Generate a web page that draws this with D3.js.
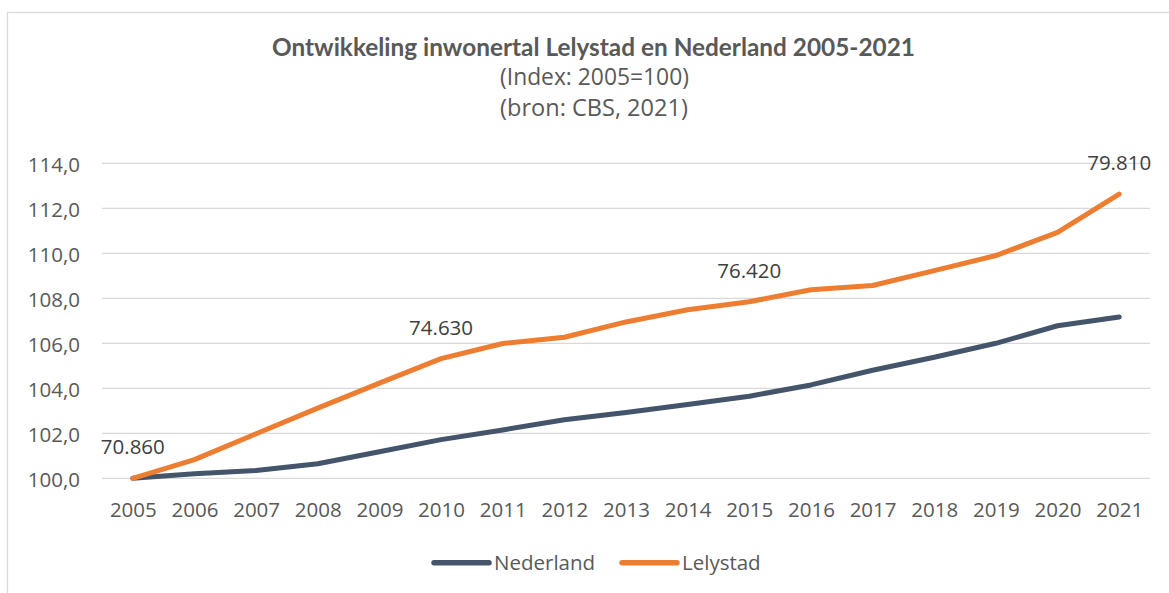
<!DOCTYPE html>
<html>
<head>
<meta charset="utf-8">
<script src="https://cdn.jsdelivr.net/npm/d3@7"></script>
<style>
  html, body { margin: 0; padding: 0; background: #ffffff; }
  svg { display: block; }
  text { font-family: "Open Sans", "Noto Sans", sans-serif; }
</style>
</head>
<body>
<svg id="chart" width="1169" height="593"></svg>
<script>
// ---- data ----
const years = [2005, 2006, 2007, 2008, 2009, 2010, 2011, 2012, 2013, 2014, 2015, 2016, 2017, 2018, 2019, 2020, 2021];
const nederland = [100, 100.2, 100.35, 100.65, 101.18, 101.72, 102.15, 102.6, 102.92, 103.28, 103.65, 104.15, 104.8, 105.38, 106.0, 106.78, 107.17];
const lelystad = [100, 100.83, 101.98, 103.12, 104.23, 105.32, 105.99, 106.27, 106.95, 107.49, 107.85, 108.38, 108.57, 109.23, 109.9, 110.93, 112.63];
const labelYears = [2005, 2010, 2015, 2021];
const labelTexts = ["70.860", "74.630", "76.420", "79.810"];
const yTicks = [100, 102, 104, 106, 108, 110, 112, 114];
const seriesNames = ["Nederland", "Lelystad"];
const titleText = "Ontwikkeling inwonertal Lelystad en Nederland 2005-2021";
const subtitle1 = "(Index: 2005=100)";
const subtitle2 = "(bron: CBS, 2021)";

// ---- styles ----
const colors = { Nederland: "#44546A", Lelystad: "#ED7D31" };
const textColor = "#595959";
const labelColor = "#404040";
const gridColor = "#D9D9D9";

const svg = d3.select("#chart");

// chart border
svg.append("rect")
  .attr("x", 7.5).attr("y", 12.5)
  .attr("width", 1200).attr("height", 600)
  .attr("fill", "none").attr("stroke", gridColor).attr("stroke-width", 1.3);

const plot = { left: 102, right: 1150, top: 163.3, bottom: 478.3 };

const x = d3.scalePoint().domain(years).range([plot.left, plot.right]).padding(0.5);
const y = d3.scaleLinear().domain([100, 114]).range([plot.bottom, plot.top]);

const nl = d3.formatLocale({ decimal: ",", thousands: ".", grouping: [3], currency: ["€", ""] });
const fmt = nl.format(".1f");

// gridlines
svg.append("g").selectAll("line").data(yTicks).join("line")
  .attr("x1", plot.left).attr("x2", plot.right)
  .attr("y1", d => y(d)).attr("y2", d => y(d))
  .attr("stroke", gridColor).attr("stroke-width", 1.3);

// y axis labels
const yAxis = d3.axisLeft(y).tickValues(yTicks).tickFormat(fmt).tickSize(0).tickPadding(0);
const gy = svg.append("g").attr("transform", "translate(80,0)").call(yAxis);
gy.select(".domain").remove();
gy.selectAll("text")
  .attr("font-family", "Open Sans").attr("font-size", 20.5)
  .attr("fill", textColor).attr("dy", "0.39em");

// x axis labels
const xAxis = d3.axisBottom(x).tickSize(0).tickPadding(0);
const gx = svg.append("g").attr("transform", "translate(0,517)").call(xAxis);
gx.select(".domain").remove();
gx.selectAll("text")
  .attr("font-family", "Open Sans").attr("font-size", 20.5)
  .attr("fill", textColor).attr("dy", 0);

// lines
const line = d3.line().x((d, i) => x(years[i])).y(d => y(d));
const seriesData = { Nederland: nederland, Lelystad: lelystad };
seriesNames.forEach(name => {
  svg.append("path")
    .datum(seriesData[name])
    .attr("d", line)
    .attr("fill", "none")
    .attr("stroke", colors[name])
    .attr("stroke-width", 5)
    .attr("stroke-linecap", "round")
    .attr("stroke-linejoin", "round");
});

// data labels (Lelystad)
svg.append("g").selectAll("text").data(labelYears).join("text")
  .attr("x", d => x(d))
  .attr("y", d => y(lelystad[years.indexOf(d)]) - 24)
  .attr("text-anchor", "middle")
  .attr("font-size", 20.5)
  .attr("fill", labelColor)
  .text((d, i) => labelTexts[i]);

// titles
function fitText(sel, targetWidth) {
  const fs = parseFloat(sel.attr("font-size"));
  const w = sel.node().getComputedTextLength();
  if (w > 0) sel.attr("font-size", fs * targetWidth / w);
}
const t1 = svg.append("text").attr("x", 593.5).attr("y", 55.5)
  .attr("text-anchor", "middle").attr("font-weight", "bold")
  .style("font-family", "Lato, 'Open Sans', sans-serif")
  .attr("font-size", 20).attr("fill", textColor).text(titleText);
fitText(t1, 643);
const t2 = svg.append("text").attr("x", 594.5).attr("y", 85)
  .attr("text-anchor", "middle")
  .attr("font-size", 20).attr("fill", textColor).text(subtitle1);
fitText(t2, 189);
const t3 = svg.append("text").attr("x", 594).attr("y", 115.5)
  .attr("text-anchor", "middle")
  .attr("font-size", 20).attr("fill", textColor).text(subtitle2);
fitText(t3, 188);

// legend
const legendItems = [
  { name: "Nederland", x1: 434, x2: 489, tx: 494 },
  { name: "Lelystad", x1: 622, x2: 677, tx: 682 }
];
const lg = svg.append("g").selectAll("g").data(legendItems).join("g");
lg.append("line")
  .attr("x1", d => d.x1).attr("x2", d => d.x2)
  .attr("y1", 562.7).attr("y2", 562.7)
  .attr("stroke", d => colors[d.name]).attr("stroke-width", 5.5)
  .attr("stroke-linecap", "round");
lg.append("text")
  .attr("x", d => d.tx).attr("y", 570)
  .attr("font-size", 20.5).attr("fill", textColor)
  .text(d => d.name);
</script>
</body>
</html>
